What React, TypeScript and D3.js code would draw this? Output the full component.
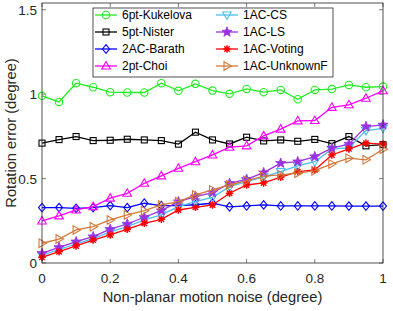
import * as d3 from "d3";

const noiseLevels = [0, 0.05, 0.1, 0.15, 0.2, 0.25, 0.3, 0.35, 0.4, 0.45, 0.5, 0.55, 0.6, 0.65, 0.7, 0.75, 0.8, 0.85, 0.9, 0.95, 1];

const kukelova = [0.99, 0.954, 1.065, 1.041, 1.012, 1.01, 1.01, 1.065, 1.02, 1.061, 1.021, 1.002, 1.031, 1.012, 1.025, 0.97, 1.025, 1.03, 1.055, 1.041, 1.045];
const nister = [0.71, 0.731, 0.749, 0.725, 0.727, 0.733, 0.729, 0.725, 0.704, 0.775, 0.729, 0.705, 0.745, 0.723, 0.729, 0.721, 0.732, 0.707, 0.749, 0.694, 0.701];
const barath = [0.328, 0.328, 0.324, 0.328, 0.34, 0.328, 0.354, 0.34, 0.34, 0.345, 0.354, 0.333, 0.338, 0.344, 0.338, 0.338, 0.338, 0.338, 0.337, 0.337, 0.337];
const choi = [0.249, 0.279, 0.314, 0.334, 0.384, 0.413, 0.472, 0.516, 0.561, 0.6, 0.64, 0.686, 0.694, 0.753, 0.793, 0.842, 0.844, 0.922, 0.937, 0.976, 1.02];
const acCS = [0.045, 0.08, 0.113, 0.145, 0.184, 0.216, 0.255, 0.285, 0.334, 0.363, 0.389, 0.452, 0.482, 0.51, 0.541, 0.575, 0.6, 0.674, 0.683, 0.784, 0.798];
const acLS = [0.057, 0.093, 0.126, 0.156, 0.2, 0.231, 0.271, 0.31, 0.363, 0.393, 0.417, 0.472, 0.496, 0.535, 0.591, 0.6, 0.63, 0.68, 0.704, 0.808, 0.818];
const acVoting = [0.034, 0.067, 0.101, 0.136, 0.166, 0.2, 0.235, 0.259, 0.314, 0.33, 0.344, 0.413, 0.462, 0.474, 0.508, 0.541, 0.551, 0.64, 0.676, 0.71, 0.704];
const acUnknownF = [0.117, 0.142, 0.196, 0.215, 0.255, 0.285, 0.31, 0.344, 0.363, 0.403, 0.433, 0.462, 0.488, 0.514, 0.522, 0.532, 0.547, 0.587, 0.621, 0.611, 0.674];

const xTicks = [0, 0.2, 0.4, 0.6, 0.8, 1];
const yTicks = [0, 0.5, 1, 1.5];

type Marker = "circle" | "square" | "diamond" | "triUp" | "triDown" | "star" | "asterisk" | "triRight";

const series: { name: string; values: number[]; color: string; marker: Marker }[] = [
  { name: "6pt-Kukelova", values: kukelova, color: "#22ee22", marker: "circle" },
  { name: "5pt-Nister", values: nister, color: "#000000", marker: "square" },
  { name: "2AC-Barath", values: barath, color: "#0000ff", marker: "diamond" },
  { name: "2pt-Choi", values: choi, color: "#ff00ff", marker: "triUp" },
  { name: "1AC-CS", values: acCS, color: "#4dbeee", marker: "triDown" },
  { name: "1AC-LS", values: acLS, color: "#9b30e0", marker: "star" },
  { name: "1AC-Voting", values: acVoting, color: "#ff0000", marker: "asterisk" },
  { name: "1AC-UnknownF", values: acUnknownF, color: "#d2793a", marker: "triRight" },
];

const W = 393;
const H = 311;
const m = { left: 42, right: 10, top: 3, bottom: 48 };
const font = "'Liberation Sans', Arial, sans-serif";
const axisColor = "#262626";

function markerEl(type: Marker, x: number, y: number, color: string, key: string) {
  const sw = 1.1;
  switch (type) {
    case "circle":
      return <circle key={key} cx={x} cy={y} r={3.7} fill="none" stroke={color} strokeWidth={sw} />;
    case "square":
      return <rect key={key} x={x - 3} y={y - 3} width={6} height={6} fill="none" stroke={color} strokeWidth={sw} />;
    case "diamond":
      return <path key={key} d={`M${x},${y - 4.3}L${x + 3.5},${y}L${x},${y + 4.3}L${x - 3.5},${y}Z`} fill="none" stroke={color} strokeWidth={sw} />;
    case "triUp":
      return <path key={key} d={`M${x},${y - 4.5}L${x + 4.3},${y + 3}L${x - 4.3},${y + 3}Z`} fill="none" stroke={color} strokeWidth={sw} />;
    case "triDown":
      return <path key={key} d={`M${x},${y + 4.5}L${x + 4.3},${y - 3}L${x - 4.3},${y - 3}Z`} fill="none" stroke={color} strokeWidth={sw} />;
    case "triRight":
      return <path key={key} d={`M${x + 4.5},${y}L${x - 3},${y + 4.3}L${x - 3},${y - 4.3}Z`} fill="none" stroke={color} strokeWidth={sw} />;
    case "star": {
      const pts: string[] = [];
      for (let i = 0; i < 10; i++) {
        const r = i % 2 === 0 ? 5.3 : 2.2;
        const a = -Math.PI / 2 + (i * Math.PI) / 5;
        pts.push(`${x + r * Math.cos(a)},${y + r * Math.sin(a)}`);
      }
      return <polygon key={key} points={pts.join(" ")} fill={color} stroke={color} strokeWidth={0.8} />;
    }
    case "asterisk": {
      const r = 3.8;
      const d = r * 0.72;
      return (
        <g key={key} stroke={color} strokeWidth={1.4}>
          <line x1={x - r} y1={y} x2={x + r} y2={y} />
          <line x1={x} y1={y - r} x2={x} y2={y + r} />
          <line x1={x - d} y1={y - d} x2={x + d} y2={y + d} />
          <line x1={x - d} y1={y + d} x2={x + d} y2={y - d} />
          <circle cx={x} cy={y} r={2.2} fill={color} stroke="none" />
        </g>
      );
    }
  }
}

export default function App() {
  const x = d3.scaleLinear().domain([0, 1]).range([m.left, W - m.right]);
  const y = d3.scaleLinear().domain([0, 1.54]).range([H - m.bottom, m.top]);
  const line = d3
    .line<number>()
    .x((_, i) => x(noiseLevels[i]))
    .y((d) => y(d));

  const x0 = m.left;
  const x1 = W - m.right;
  const y0 = H - m.bottom;
  const y1 = m.top;

  // legend geometry
  const lg = { x: 93, y: 8, w: 240, h: 69 };
  const rowH = 17;

  return (
    <svg width={W} height={H} style={{ position: "absolute", left: 0, top: 0, background: "#fff" }} fontFamily={font}>
      <rect x={0} y={0} width={W} height={H} fill="#fff" />
      {/* ticks */}
      {xTicks.map((t) => (
        <g key={"xt" + t} stroke={axisColor} strokeWidth={0.6}>
          <line x1={x(t)} x2={x(t)} y1={y0} y2={y0 - 4} />
          <line x1={x(t)} x2={x(t)} y1={y1} y2={y1 + 4} />
        </g>
      ))}
      {yTicks.map((t) => (
        <g key={"yt" + t} stroke={axisColor} strokeWidth={0.6}>
          <line x1={x0} x2={x0 + 4} y1={y(t)} y2={y(t)} />
          <line x1={x1} x2={x1 - 4} y1={y(t)} y2={y(t)} />
        </g>
      ))}
      {xTicks.map((t) => (
        <text key={"xl" + t} x={x(t)} y={y0 + 20} textAnchor="middle" fontSize={13.5} fill={axisColor}>
          {d3.format("~g")(t)}
        </text>
      ))}
      {yTicks.map((t) => (
        <text key={"yl" + t} x={x0 - 5} y={y(t) + 5} textAnchor="end" fontSize={13.5} fill={axisColor}>
          {d3.format("~g")(t)}
        </text>
      ))}
      <text x={(x0 + x1) / 2} y={302} textAnchor="middle" fontSize={14.7} fill={axisColor}>
        Non-planar motion noise (degree)
      </text>
      <text transform={`translate(16,${(y0 + y1) / 2}) rotate(-90)`} textAnchor="middle" fontSize={14.7} fill={axisColor}>
        Rotation error (degree)
      </text>

      {/* series */}
      {series.map((s) => (
        <g key={s.name}>
          <path d={line(s.values) ?? ""} fill="none" stroke={s.color} strokeWidth={1.3} />
          {s.values.map((v, i) => markerEl(s.marker, x(noiseLevels[i]), y(v), s.color, s.name + i))}
        </g>
      ))}

      {/* box */}
      <rect x={x0} y={y1} width={x1 - x0} height={y0 - y1} fill="none" stroke={axisColor} strokeWidth={0.8} />

      {/* legend */}
      <rect x={lg.x} y={lg.y} width={lg.w} height={lg.h} fill="#fff" stroke={axisColor} strokeWidth={0.8} />
      {series.map((s, i) => {
        const col = Math.floor(i / 4);
        const row = i % 4;
        const lx = col === 0 ? 95 : 216;
        const ly = 15 + row * rowH;
        return (
          <g key={"lg" + s.name}>
            <line x1={lx} x2={lx + 22} y1={ly} y2={ly} stroke={s.color} strokeWidth={1.3} />
            {markerEl(s.marker, lx + 11, ly, s.color, "lm" + i)}
            <text x={lx + 27} y={ly + 4.3} fontSize={12} fill="#000">
              {s.name}
            </text>
          </g>
        );
      })}
    </svg>
  );
}
